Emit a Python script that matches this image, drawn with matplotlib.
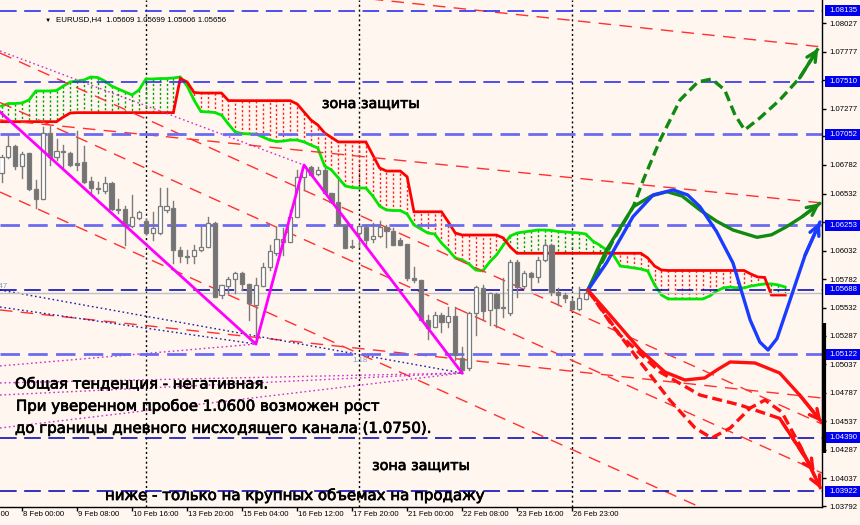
import numpy as np
import matplotlib
matplotlib.use("Agg")
import matplotlib.pyplot as plt
from matplotlib.patches import Rectangle
import matplotlib.patheffects as pe

# ---------------- data ----------------
opens = [1.06712, 1.06852, 1.06949, 1.06773, 1.06887, 1.06572, 1.06484, 1.07063, 1.06852, 1.06905,
         1.06887, 1.06800, 1.06808, 1.06642, 1.06580, 1.06554, 1.06624, 1.06396, 1.06396, 1.06247,
         1.06317, 1.06291, 1.06186, 1.06186, 1.06387, 1.06405, 1.06037, 1.05984, 1.05984, 1.06037,
         1.06063, 1.06273, 1.05642, 1.05721, 1.05782, 1.05835, 1.05739, 1.05554, 1.05721, 1.05888,
         1.06010, 1.06106, 1.06107, 1.06326, 1.06677, 1.06764, 1.06703, 1.06738, 1.06537, 1.06458,
         1.06256, 1.06072, 1.06186, 1.06238, 1.06133, 1.06160, 1.06238, 1.06203, 1.06124, 1.06089,
         1.05791, 1.05774, 1.05423, 1.05362, 1.05467, 1.05405, 1.05458, 1.05090, 1.05002, 1.05484,
         1.05704, 1.05511, 1.05651, 1.05537, 1.05484, 1.05932, 1.05721, 1.05835, 1.05800, 1.05949,
         1.06080, 1.05668, 1.05642, 1.05590, 1.05519, 1.05609]
highs = [1.06870, 1.07054, 1.06957, 1.06896, 1.06890, 1.06650, 1.07115, 1.07124, 1.07010, 1.06957,
         1.06896, 1.07080, 1.06949, 1.06677, 1.06633, 1.06677, 1.06630, 1.06484, 1.06422, 1.06519,
         1.06379, 1.06309, 1.06370, 1.06580, 1.06580, 1.06466, 1.06063, 1.06037, 1.06080, 1.06238,
         1.06326, 1.06282, 1.05730, 1.05800, 1.05844, 1.05844, 1.05739, 1.05791, 1.05923, 1.06080,
         1.06230, 1.06230, 1.06387, 1.06738, 1.06782, 1.06773, 1.06764, 1.06756, 1.06537, 1.06650,
         1.06256, 1.06124, 1.06256, 1.06256, 1.06273, 1.06291, 1.06256, 1.06230, 1.06142, 1.06089,
         1.05888, 1.05774, 1.05467, 1.05493, 1.05484, 1.05537, 1.05537, 1.05186, 1.05493, 1.05721,
         1.05730, 1.05660, 1.05660, 1.05791, 1.05949, 1.05949, 1.05853, 1.05844, 1.05975, 1.06107,
         1.06089, 1.05704, 1.05660, 1.05607, 1.05712, 1.05699]
lows = [1.06633, 1.06843, 1.06747, 1.06668, 1.06563, 1.06405, 1.06480, 1.06782, 1.06826, 1.06764,
        1.06773, 1.06738, 1.06624, 1.06537, 1.06537, 1.06537, 1.06387, 1.06361, 1.06080, 1.06238,
        1.06309, 1.06177, 1.06124, 1.06177, 1.06370, 1.05923, 1.05932, 1.05923, 1.05923, 1.06028,
        1.06063, 1.05625, 1.05616, 1.05660, 1.05660, 1.05686, 1.05423, 1.05212, 1.05721, 1.05861,
        1.05993, 1.05993, 1.06107, 1.06326, 1.06563, 1.06694, 1.06694, 1.06537, 1.06449, 1.06256,
        1.06054, 1.06054, 1.06063, 1.06054, 1.06107, 1.06151, 1.06063, 1.06080, 1.06080, 1.05774,
        1.05756, 1.05423, 1.05256, 1.05362, 1.05318, 1.05362, 1.05072, 1.04958, 1.04985, 1.05291,
        1.05423, 1.05379, 1.05362, 1.05449, 1.05467, 1.05625, 1.05704, 1.05686, 1.05756, 1.05940,
        1.05642, 1.05554, 1.05581, 1.05511, 1.05511, 1.05606]
closes = [1.06852, 1.06949, 1.06773, 1.06878, 1.06572, 1.06484, 1.07063, 1.06852, 1.06905, 1.06896,
          1.06782, 1.06782, 1.06633, 1.06580, 1.06572, 1.06624, 1.06396, 1.06387, 1.06247, 1.06326,
          1.06370, 1.06186, 1.06230, 1.06422, 1.06422, 1.06037, 1.05984, 1.05975, 1.06037, 1.06063,
          1.06273, 1.05625, 1.05730, 1.05782, 1.05835, 1.05739, 1.05572, 1.05730, 1.05888, 1.06028,
          1.06133, 1.06133, 1.06326, 1.06677, 1.06764, 1.06694, 1.06738, 1.06537, 1.06458, 1.06256,
          1.06054, 1.06063, 1.06247, 1.06124, 1.06160, 1.06238, 1.06203, 1.06080, 1.06080, 1.05791,
          1.05774, 1.05423, 1.05353, 1.05467, 1.05405, 1.05458, 1.05116, 1.04985, 1.05484, 1.05712,
          1.05502, 1.05660, 1.05528, 1.05528, 1.05932, 1.05712, 1.05835, 1.05800, 1.05949, 1.06080,
          1.05668, 1.05642, 1.05616, 1.05519, 1.05616, 1.05656]

span_a = [1.07299, 1.07321, 1.07321, 1.07326, 1.07352, 1.07431, 1.07431, 1.07431, 1.07435, 1.07475,
          1.07510, 1.07519, 1.07527, 1.07554, 1.07549, 1.07519, 1.07475, 1.07448, 1.07422, 1.07396,
          1.07440, 1.07536, 1.07536, 1.07540, 1.07540, 1.07545, 1.07554, 1.07475, 1.07352, 1.07251,
          1.07247, 1.07242, 1.07220, 1.07141, 1.07071, 1.07058, 1.07054, 1.07054, 1.07028, 1.07001,
          1.06988, 1.06992, 1.07001, 1.07001, 1.06984, 1.06957, 1.06931, 1.06773, 1.06738, 1.06668,
          1.06598, 1.06585, 1.06580, 1.06580, 1.06510, 1.06422, 1.06387, 1.06383, 1.06383, 1.06352,
          1.06256, 1.06221, 1.06186, 1.06177, 1.06098, 1.06037, 1.05967, 1.05949, 1.05914, 1.05861,
          1.05853, 1.05931, 1.05993, 1.06080, 1.06159, 1.06186, 1.06195, 1.06203, 1.06212, 1.06212,
          1.06208, 1.06199, 1.06195, 1.06190, 1.06186, 1.06177, 1.06116, 1.06080, 1.06037, 1.05993,
          1.05896, 1.05888, 1.05879, 1.05870, 1.05853, 1.05730, 1.05642, 1.05607, 1.05607, 1.05607,
          1.05607, 1.05607, 1.05607, 1.05633, 1.05677, 1.05704, 1.05712, 1.05704, 1.05704, 1.05721,
          1.05730, 1.05739, 1.05739, 1.05730, 1.05712]
span_b = [1.07162, 1.07162, 1.07162, 1.07162, 1.07162, 1.07162, 1.07162, 1.07162, 1.07162, 1.07203,
          1.07238, 1.07241, 1.07241, 1.07241, 1.07241, 1.07241, 1.07241, 1.07241, 1.07241, 1.07241,
          1.07241, 1.07241, 1.07241, 1.07241, 1.07241, 1.07241, 1.07540, 1.07510, 1.07418, 1.07413,
          1.07413, 1.07413, 1.07413, 1.07347, 1.07346, 1.07346, 1.07346, 1.07346, 1.07346, 1.07346,
          1.07346, 1.07346, 1.07346, 1.07317, 1.07247, 1.07177, 1.07133, 1.07063, 1.07023, 1.06984,
          1.06984, 1.06984, 1.06984, 1.06984, 1.06870, 1.06756, 1.06729, 1.06729, 1.06729, 1.06679,
          1.06372, 1.06372, 1.06372, 1.06372, 1.06372, 1.06282, 1.06186, 1.06168, 1.06168, 1.06168,
          1.06168, 1.06168, 1.06168, 1.06142, 1.06063, 1.06008, 1.06008, 1.06008, 1.06008, 1.06008,
          1.06008, 1.06008, 1.06008, 1.06008, 1.06008, 1.06008, 1.06008, 1.06008, 1.06008, 1.06008,
          1.06008, 1.06008, 1.06008, 1.06008, 1.05967, 1.05896, 1.05861, 1.05857, 1.05857, 1.05857,
          1.05857, 1.05857, 1.05857, 1.05857, 1.05857, 1.05857, 1.05857, 1.05857, 1.05857, 1.05826,
          1.05800, 1.05796, 1.05642, 1.05642, 1.05642]

zigzag_bar = [-1, 37, 44, 67]
zigzag_price = [1.07290, 1.05212, 1.06782, 1.04958]

# channel / trend lines: (bar1, price1, bar2, price2)
red_dashed_lines = [
    (-0.22, 1.07764, 119.35, 1.04511),
    (-0.22, 1.07330, 119.35, 1.04081),
    (-0.22, 1.06545, 119.35, 1.03301),
    (-0.22, 1.08583, 119.35, 1.07817),
    (-0.22, 1.07177, 119.35, 1.06449),
    (-0.22, 1.05511, 119.35, 1.04739),
]
pink_dotted_lines = [
    (-0.22, 1.07782, 44, 1.06782),
    (-0.22, 1.04871, 67, 1.04958),
    (-0.22, 1.04765, 67, 1.04958),
    (-0.22, 1.04476, 67, 1.04958),
    (-0.22, 1.05020, 37, 1.05212),
]
blue_dotted_lines = [
    (-0.22, 1.05686, 67, 1.04958),
    (-0.22, 1.05537, 37, 1.05212),
]

# forecast paths (bar, price)
green_dash_bar = [85.3, 89.0, 91.9, 93.35, 95.8, 98.7, 101.3, 103.3, 105.2, 106.7, 108.1, 110.3, 113.2, 116.1, 118.8]
green_dash_price = [1.05686, 1.06124, 1.06416, 1.06650, 1.07001, 1.07352, 1.07510, 1.07536, 1.07440, 1.07220,
                    1.07089, 1.07194, 1.07352, 1.07545, 1.07805]
green_bar = [85.3, 88.0, 91.9, 94.5, 96.8, 99.0, 101.6, 104.0, 106.4, 109.9, 112.0, 114.2, 116.5, 119.05]
green_price = [1.05686, 1.06037, 1.06416, 1.06510, 1.06548, 1.06510, 1.06387, 1.06290, 1.06212, 1.06148,
               1.06170, 1.06241, 1.06330, 1.06446]
blue_bar = [85.3, 88.0, 91.85, 94.8, 97.7, 99.8, 101.6, 104.0, 106.4, 108.9, 110.3, 111.5, 112.8, 114.7, 116.9, 119.05]
blue_price = [1.05686, 1.05923, 1.06329, 1.06520, 1.06563, 1.06520, 1.06416, 1.06200, 1.05923, 1.05423,
              1.05230, 1.05160, 1.05260, 1.05598, 1.05993, 1.06282]
red_bar = [85.3, 88.5, 92.9, 96.5, 99.4, 102.3, 104.2, 106.0, 109.6, 113.2, 116.1, 119.3]
red_price = [1.05686, 1.05467, 1.05160, 1.04967, 1.04897, 1.04915, 1.04990, 1.05055, 1.05046, 1.04958,
             1.04765, 1.04528]
red_dash1_bar = [85.3, 88.5, 92.9, 97.2, 100.9, 103.3, 106.0, 108.9, 111.05, 113.5, 116.1, 119.2]
red_dash1_price = [1.05686, 1.05405, 1.05055, 1.04721, 1.04476, 1.04388, 1.04476, 1.04651, 1.04721, 1.04616,
                   1.04327, 1.03941]
red_dash2_bar = [85.6, 89.96, 95.78, 101.6, 107.4, 113.2, 118.3]
red_dash2_price = [1.05660, 1.05292, 1.04967, 1.04765, 1.04678, 1.04560, 1.04090]

hlevels = [1.08135, 1.07510, 1.07052, 1.06253, 1.05688, 1.05122, 1.04390, 1.03922]
hstyles = ["thin", "thin", "thick", "thick", "dark", "thick", "dark", "dark"]
bid_price = 1.05656
axis_ticks = [1.08027, 1.07777, 1.07527, 1.07277, 1.07032, 1.06782, 1.06532, 1.06282, 1.06032,
              1.05782, 1.05532, 1.05287, 1.05037, 1.04787, 1.04537, 1.04287, 1.04037, 1.03792]
hidden_ticks = [1.07527, 1.06282]
time_bars = [-5, 3, 11, 19, 27, 35, 43, 51, 59, 67, 75, 83]
time_labels = ["6 Feb 16:00", "8 Feb 00:00", "9 Feb 08:00", "10 Feb 16:00", "13 Feb 20:00",
               "15 Feb 04:00", "16 Feb 12:00", "17 Feb 20:00", "21 Feb 00:00", "22 Feb 08:00",
               "23 Feb 16:00", "26 Feb 23:00"]
week_sep_bars = [21, 52, 83]

title = "EURUSD,H4  1.05609 1.05699 1.05606 1.05656"
notes = [
    ("зона защиты", 46.6, 1.07317, 10.3),
    ("зона защиты", 53.9, 1.04143, 10.3),
    ("Общая тенденция - негативная.", 1.96, 1.04862, 10.7),
    ("При уверенном пробое 1.0600 возможен рост", 2.1, 1.04672, 10.8),
    ("до границы дневного нисходящего канала (1.0750).", 1.96, 1.04473, 10.8),
    ("ниже - только на крупных объемах на продажу", 15.05, 1.03889, 10.8),
]
small_marks = [("1.47", 0.95, 1.05686), ("1.18", 51.1, 1.05037)]

# ---------------- drawing ----------------
BG = "#FFF6EF"
AXF = ["Liberation Sans", "DejaVu Sans"]
fig = plt.figure(figsize=(8.6, 5.25), dpi=100, facecolor=BG)
ax = fig.add_axes([0, 18 / 525, 822 / 860, 507 / 525])
ax.set_facecolor(BG)
ax.set_xlim(-0.22, 119.35)
ax.set_ylim(1.037833, 1.082287)
for s in ["top", "left"]:
    ax.spines[s].set_visible(False)
for s in ["bottom", "right"]:
    ax.spines[s].set_color("black")
    ax.spines[s].set_linewidth(1)

# cloud
nb = len(span_a)
kk = np.arange(nb)
sa = np.array(span_a)
sb = np.array(span_b)
for i in range(nb):
    col = "#00A000" if sa[i] >= sb[i] else "#FF2020"
    ax.plot([kk[i], kk[i]], [sa[i], sb[i]], color=col, lw=1, ls=(0, (1.6, 1.6)), zorder=1.5)
ax.plot(kk, sa, color="#00E600", lw=2, zorder=2, solid_joinstyle="miter")
ax.plot(kk, sb, color="#FF0000", lw=2, zorder=2, solid_joinstyle="miter")

# week separators
for b in week_sep_bars:
    ax.axvline(b, color="black", lw=1, ls=(0, (1.5, 2)), zorder=1)

# trend lines
for (x1, y1, x2, y2) in red_dashed_lines:
    ax.plot([x1, x2], [y1, y2], color="#FF3030", lw=1, ls=(0, (9, 6)), zorder=2.2)
for (x1, y1, x2, y2) in pink_dotted_lines:
    ax.plot([x1, x2], [y1, y2], color="#CC33CC", lw=1, ls=(0, (1.2, 2)), zorder=2.2)
for (x1, y1, x2, y2) in blue_dotted_lines:
    ax.plot([x1, x2], [y1, y2], color="#2020A0", lw=1, ls=(0, (1.2, 2)), zorder=2.2)

# bid line
ax.axhline(bid_price, color="#C0C0C0", lw=1, zorder=2.3)

# horizontal levels
for lv, st in zip(hlevels, hstyles):
    if st == "thick":
        ax.axhline(lv, color="#6B6BF2", lw=2, ls=(0, (7, 3)), zorder=2.4)
    elif st == "thin":
        ax.axhline(lv, color="#3030F0", lw=1.2, ls=(0, (10, 4.5)), zorder=2.4)
    else:
        ax.axhline(lv, color="#1010B0", lw=1.2, ls=(0, (10, 4.5)), zorder=2.4)

# candles
for i in range(len(opens)):
    o, h, l, c = opens[i], highs[i], lows[i], closes[i]
    ax.plot([i, i], [l, h], color="#7A7A7A", lw=1, zorder=3)
    bot = min(o, c)
    hgt = abs(c - o)
    fc = "white" if c >= o else "#747474"
    if hgt < 0.00003:
        ax.plot([i - 0.3, i + 0.3], [o, o], color="#7A7A7A", lw=1, zorder=3.1)
    else:
        ax.add_patch(Rectangle((i - 0.3, bot), 0.6, hgt, facecolor=fc, edgecolor="#7A7A7A",
                               lw=0.9, zorder=3.1))

# zigzag
ax.plot(zigzag_bar, zigzag_price, color="#FF00FF", lw=2, zorder=4)

# forecast paths
def path(bx, py, col, ls):
    ax.plot(bx, py, color=col, lw=2.4, ls=ls, zorder=5, solid_capstyle="round")
    ax.annotate("", xy=(bx[-1], py[-1]), xytext=(bx[-2], py[-2]),
                arrowprops=dict(arrowstyle="->,head_length=0.7,head_width=0.35", color=col, lw=2.4,
                                shrinkA=0, shrinkB=0), zorder=5)

path(green_bar, green_price, "#108A10", "-")
path(green_dash_bar, green_dash_price, "#108A10", (0, (3, 1.5)))
path(blue_bar, blue_price, "#1A3CFF", "-")
path(red_bar, red_price, "#FF1010", "-")
path(red_dash1_bar, red_dash1_price, "#FF1010", (0, (3, 1.5)))
path(red_dash2_bar, red_dash2_price, "#FF1010", (0, (3, 1.5)))

# notes
for (t, b, p, fs) in notes:
    ax.text(b, p, t, fontsize=fs, family="DejaVu Sans", color="black", ha="left", va="center", zorder=7,
            path_effects=[pe.withStroke(linewidth=0.5, foreground="black")])
for (t, b, p) in small_marks:
    ax.text(b, p, t, fontsize=5.6, family=AXF, color="#7F9CBF", ha="right" if b < 5 else "left",
            va="bottom", zorder=7)

# title
ax.text(45 / 822, 1 - 20 / 507, "\u25BC", transform=ax.transAxes, fontsize=4.5, family=AXF,
        va="center", ha="left")
ax.text(56 / 822, 1 - 20 / 507, title, transform=ax.transAxes, fontsize=5.7, family=AXF,
        va="center", ha="left")

# price axis
ax.yaxis.tick_right()
ax.set_yticks(axis_ticks)
ax.set_yticklabels(["" if v in hidden_ticks else "%.5f" % v for v in axis_ticks], family=AXF, fontsize=5.6)
ax.tick_params(axis="y", direction="out", length=3, width=1, pad=2.5, colors="black")
ytr = ax.get_yaxis_transform()
hpx = 0.000877
for lv in hlevels:
    ax.add_patch(Rectangle((1 + 3 / 822, lv - hpx * 0.55), 40 / 822, hpx * 1.1, transform=ytr,
                           facecolor="#0000EE", edgecolor="none", clip_on=False, zorder=8))
    ax.text(1 + 7 / 822, lv, "%.5f" % lv, transform=ytr, color="white", fontsize=5.6, family=AXF,
            va="center", ha="left", zorder=9, clip_on=False)
ax.plot([1 + 1.5 / 822, 1 + 1.5 / 822], [1.04257, 1.05397], transform=ytr, color="black", lw=3,
        clip_on=False, zorder=8, solid_capstyle="butt")

# time axis
ax.set_xticks([b for b in time_bars if b >= 0])
ax.set_xticklabels([])
ax.tick_params(axis="x", direction="out", length=3, width=1, colors="black")
xtr = ax.get_xaxis_transform()
for b, t in zip(time_bars, time_labels):
    ax.text(b + 0.1, -8 / 507, t, transform=xtr, fontsize=5.6, family=AXF, va="center", ha="left",
            clip_on=False)

fig.savefig("out.png", dpi=100, facecolor=BG)
